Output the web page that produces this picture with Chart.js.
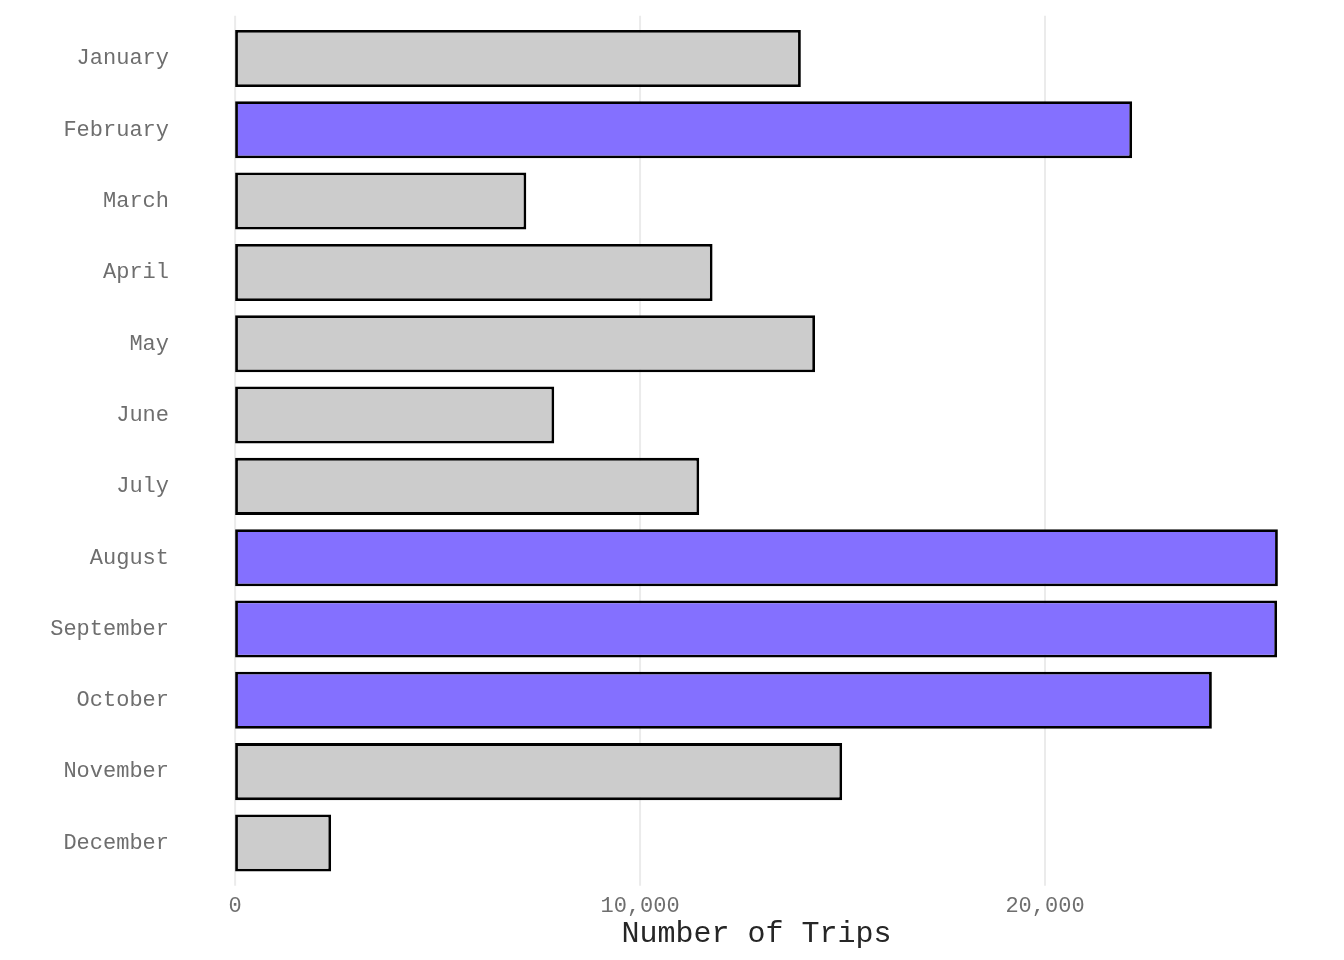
<!DOCTYPE html>
<html>
<head>
<meta charset="utf-8">
<script src="https://cdn.jsdelivr.net/npm/chart.js@4"></script>
<style>
  html, body { margin: 0; padding: 0; background: #fff; }
  #wrap { width: 1344px; height: 960px; }
</style>
</head>
<body>
<div id="wrap"><canvas id="chart" width="1344" height="960"></canvas></div>
<script>
// trips per month
const months = ['January', 'February', 'March', 'April', 'May', 'June',
  'July', 'August', 'September', 'October', 'November', 'December'];
const trips = [13970, 22150, 7190, 11790, 14320, 7880, 11460, 25750, 25730, 24120, 14990, 2370];
const highlighted = ['February', 'August', 'September', 'October'];
const xTicks = [0, 10000, 20000];

const grey = '#CCCCCC';
const purple = '#8470FF';
const font = "'Liberation Mono', 'Courier New', monospace";

// ggplot-like 5% expansion on both sides
const maxVal = Math.max(...trips);
const pad = maxVal * 0.05;

// vertical grid lines reaching a bit past the bars, like ggplot's panel
const gridPlugin = {
  id: 'panelGrid',
  beforeDatasetsDraw(chart) {
    const { ctx, chartArea, scales } = chart;
    const band = chartArea.height / months.length;
    const ext = band * 0.1;
    ctx.save();
    ctx.strokeStyle = '#EBEBEB';
    ctx.lineWidth = 2;
    xTicks.forEach(v => {
      const x = scales.x.getPixelForValue(v);
      ctx.beginPath();
      ctx.moveTo(x, chartArea.top - ext);
      ctx.lineTo(x, chartArea.bottom + ext);
      ctx.stroke();
    });
    ctx.restore();
  }
};

const ctx = document.getElementById('chart').getContext('2d');
new Chart(ctx, {
  type: 'bar',
  data: {
    labels: months,
    datasets: [{
      data: trips,
      backgroundColor: months.map(m => highlighted.includes(m) ? purple : grey),
      borderColor: '#000',
      borderWidth: 2.8,
      borderSkipped: false,
      categoryPercentage: 1,
      barPercentage: 0.8
    }]
  },
  options: {
    indexAxis: 'y',
    responsive: false,
    animation: false,
    layout: { padding: { top: 21.5, right: 14, bottom: 0, left: 0 } },
    plugins: {
      legend: { display: false },
      tooltip: { enabled: false }
    },
    scales: {
      x: {
        min: -pad,
        max: maxVal + pad,
        afterBuildTicks: s => { s.ticks = xTicks.map(v => ({ value: v })); },
        afterFit: s => { s.height = 81.4; },
        grid: { display: false, drawTicks: false },
        border: { display: false },
        ticks: {
          padding: 14,
          color: '#6E6E6E',
          font: { family: font, size: 22 },
          maxRotation: 0,
          callback: v => v.toLocaleString('en-US')
        },
        title: {
          display: true,
          text: 'Number of Trips',
          color: '#262626',
          font: { family: font, size: 30 },
          padding: { top: 0, bottom: 8 }
        }
      },
      y: {
        afterFit: s => { s.width = 183; },
        grid: { display: false, drawTicks: false },
        border: { display: false },
        ticks: {
          padding: 14,
          color: '#6E6E6E',
          font: { family: font, size: 22, lineHeight: 0.8 }
        }
      }
    }
  },
  plugins: [gridPlugin]
});
</script>
</body>
</html>
